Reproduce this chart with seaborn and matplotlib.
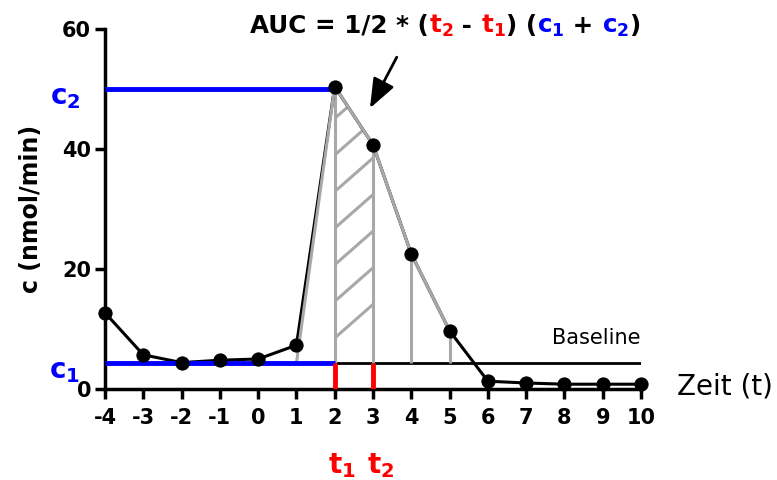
import numpy as np
import pandas as pd
import matplotlib
matplotlib.use("Agg")
import matplotlib.pyplot as plt
from matplotlib.patches import Polygon
import seaborn as sns

# ---- data ----
t = [-4, -3, -2, -1, 0, 1, 2, 3, 4, 5, 6, 7, 8, 9, 10]
c = [12.7, 5.7, 4.4, 4.8, 5.0, 7.3, 50.4, 40.7, 22.5, 9.7, 1.3, 1.0, 0.8, 0.8, 0.8]
baseline = 4.3
t1, t2 = 2, 3
auc_ts = [2, 3, 4, 5]          # vertical guides under curve
gray_path_t = [1, 2, 3, 4, 5]
y_ticks = [0, 20, 40, 60]
x_ticks = list(range(-4, 11))

df = pd.DataFrame({"t": t, "c": c})
cmap = dict(zip(t, c))

sns.set_style("ticks")
plt.rcParams["font.family"] = ["DejaVu Sans"]
plt.rcParams["mathtext.fontset"] = "custom"
plt.rcParams["mathtext.default"] = "regular"
plt.rcParams["axes.unicode_minus"] = False
plt.rcParams["text.color"] = "black"
plt.rcParams["axes.labelcolor"] = "black"

RED = "#ff0000"
BLUE = "#0000ff"
GRAY = "#a8a8a8"

fig = plt.figure(figsize=(7.77, 4.8), dpi=100)
ax = fig.add_axes([105 / 777, 1 - 389 / 480, (641 - 105) / 777, (389 - 29) / 480])

# baseline
ax.hlines(baseline, t[0], t[-1], color="black", lw=2, zorder=2)

# gray guides
ax.vlines(auc_ts, baseline, [cmap[v] for v in auc_ts], color=GRAY, lw=2.2, zorder=3)
gy = [baseline] + [cmap[v] for v in gray_path_t[1:]]
ax.plot(gray_path_t, gy, color=GRAY, lw=2.2, zorder=4)

# hatched AUC region between t1 and t2
poly = Polygon([(t1, baseline), (t1, cmap[t1]), (t2, cmap[t2]), (t2, baseline)],
               closed=True, facecolor="none", edgecolor="none", transform=ax.transData)
ax.add_patch(poly)
for y0 in np.arange(8.5, 50, 6.1):
    ln, = ax.plot([t1, t2], [y0, y0 + 5.6], color=GRAY, lw=2.2, zorder=3)
    ln.set_clip_path(poly)

# main curve
sns.lineplot(data=df, x="t", y="c", color="black", lw=2.2, ax=ax, zorder=3.5)
sns.scatterplot(data=df, x="t", y="c", color="black", s=90, edgecolor="black",
                ax=ax, zorder=6, clip_on=False)

# blue c1 / c2 levels
ax.hlines([cmap[t1] - 0.4, baseline], t[0], t1, color=BLUE, lw=3.5, zorder=5)
# red t1 / t2 markers
ax.vlines([t1, t2], 0, baseline, color=RED, lw=3.5, zorder=5)

ax.set_xlim(-4, 10)
ax.set_ylim(0, 60)
ax.set_xticks(x_ticks)
ax.set_yticks(y_ticks)
ax.set_xlabel("")
ax.set_ylabel("c (nmol/min)", fontsize=17, fontweight="bold", labelpad=14, color="black")
for s in ["top", "right"]:
    ax.spines[s].set_visible(False)
for s in ["left", "bottom"]:
    ax.spines[s].set_linewidth(2.5)
    ax.spines[s].set_color("black")
ax.tick_params(width=2.5, length=7, labelsize=15, colors="black")
ax.tick_params(axis="x", pad=7)
ax.tick_params(axis="y", pad=3)
for lab in ax.get_xticklabels() + ax.get_yticklabels():
    lab.set_fontweight("bold")

# labels
ax.text(-4.65, cmap[t1] - 1.8, "c$_2$", color=BLUE, fontsize=20, fontweight="bold",
        ha="right", va="center", clip_on=False)
ax.text(-4.65, baseline - 1.3, "c$_1$", color=BLUE, fontsize=20, fontweight="bold",
        ha="right", va="center", clip_on=False)
ax.text(t1 + 0.2, -10.3, "t$_1$", color=RED, fontsize=20, fontweight="bold",
        ha="center", va="top", clip_on=False)
ax.text(t2 + 0.2, -10.3, "t$_2$", color=RED, fontsize=20, fontweight="bold",
        ha="center", va="top", clip_on=False)
ax.text(10.95, 0.4, "Zeit (t)", fontsize=20, color="black", ha="left", va="center",
        clip_on=False)
ax.text(10, 6.8, "Baseline", fontsize=15, color="black", ha="right", va="bottom")

ax.annotate("", xy=(2.92, 46.8), xytext=(3.62, 55.3),
            arrowprops=dict(arrowstyle="-|>,head_length=0.9,head_width=0.35",
                            color="black", lw=2, mutation_scale=20, shrinkA=0, shrinkB=0))

# multi-coloured formula title
parts = [("AUC = 1/2 * (", "black"), ("t$_2$", RED), (" - ", "black"), ("t$_1$", RED),
         (") (", "black"), ("c$_1$", BLUE), (" + ", "black"), ("c$_2$", BLUE), (")", "black")]
yb = 1 - 33 / 480
prev = fig.text(250 / 777, yb, parts[0][0], color=parts[0][1], fontsize=17.7,
                fontweight="bold", va="baseline", ha="left")
for txt, col in parts[1:]:
    prev = ax.annotate(txt, xy=(1, yb), xycoords=(prev, "figure fraction"), color=col,
                       fontsize=17.7, fontweight="bold", va="baseline", ha="left",
                       annotation_clip=False)

fig.savefig("out.png", dpi=100)
